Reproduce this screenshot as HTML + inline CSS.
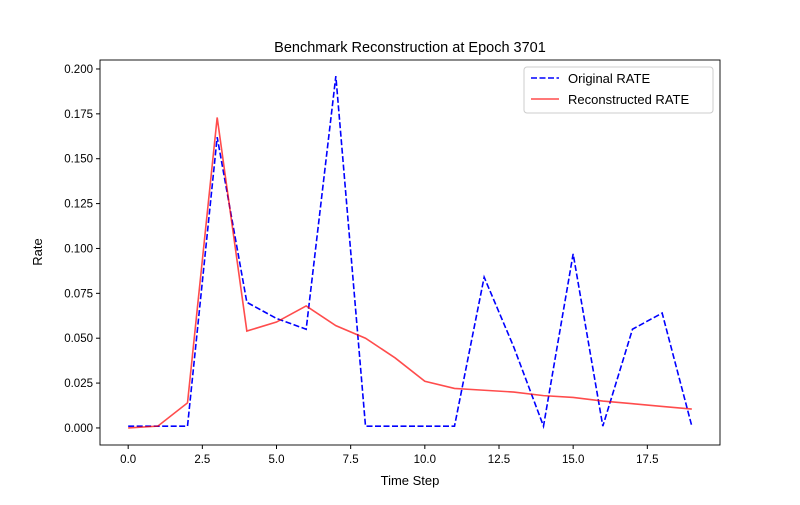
<!DOCTYPE html>
<html><head><meta charset="utf-8"><style>
html,body{margin:0;padding:0;background:#fff;}
svg text{font-family:"Liberation Sans","DejaVu Sans",sans-serif;fill:#000;}
</style></head><body>
<svg id="chart" width="800" height="500" xmlns="http://www.w3.org/2000/svg">
<rect width="800" height="500" fill="#fff"/>
<text x="410" y="52" font-size="14.5" text-anchor="middle">Benchmark Reconstruction at Epoch 3701</text>
<g id="series"></g>
<rect x="100" y="60" width="620" height="385" fill="none" stroke="#000" stroke-width="0.9"/>
<g id="ticks"></g>
<text x="410" y="485" font-size="13" text-anchor="middle">Time Step</text>
<text x="42" y="252" font-size="13" text-anchor="middle" transform="rotate(-90 42 252)">Rate</text>
<g>
<rect x="524" y="67" width="189" height="46" rx="3" fill="#fff" stroke="#ccc" stroke-width="1"/>
<line x1="531" y1="78" x2="559" y2="78" stroke="#0000ff" stroke-width="1.6" stroke-dasharray="6,2.5"/>
<text x="568" y="83" font-size="13">Original RATE</text>
<line x1="531" y1="99" x2="559" y2="99" stroke="#ff0000" stroke-opacity="0.7" stroke-width="1.6"/>
<text x="568" y="104" font-size="13">Reconstructed RATE</text>
</g>
</svg>
<script>
const steps = [0,1,2,3,4,5,6,7,8,9,10,11,12,13,14,15,16,17,18,19];
const originalRate = [0.001,0.001,0.001,0.162,0.070,0.061,0.055,0.196,0.001,0.001,0.001,0.001,0.084,0.045,0.001,0.097,0.001,0.055,0.064,0.001];
const reconstructedRate = [0.000,0.001,0.014,0.173,0.054,0.059,0.068,0.057,0.050,0.039,0.026,0.022,0.021,0.020,0.018,0.017,0.015,0.0135,0.012,0.0105];
const xTicks = [0,2.5,5,7.5,10,12.5,15,17.5];
const xTickLabels = ["0.0","2.5","5.0","7.5","10.0","12.5","15.0","17.5"];
const yTicks = [0,0.025,0.05,0.075,0.1,0.125,0.15,0.175,0.2];
const yTickLabels = ["0.000","0.025","0.050","0.075","0.100","0.125","0.150","0.175","0.200"];

const NS = "http://www.w3.org/2000/svg";
const X0 = 100, X1 = 720, Y0 = 445, Y1 = 60;
const xMin = -0.95, xMax = 19.95, yMin = -0.0095, yMax = 0.205;
function xs(v){ return X0 + (v - xMin) / (xMax - xMin) * (X1 - X0); }
function ys(v){ return Y0 - (v - yMin) / (yMax - yMin) * (Y0 - Y1); }

const ticks = document.getElementById('ticks');
xTicks.forEach((t, i) => {
  const l = document.createElementNS(NS, 'line');
  l.setAttribute('x1', xs(t)); l.setAttribute('x2', xs(t));
  l.setAttribute('y1', Y0); l.setAttribute('y2', Y0 + 4);
  l.setAttribute('stroke', '#000');
  
  
  ticks.appendChild(l);
  const tx = document.createElementNS(NS, 'text');
  tx.setAttribute('x', xs(t)); tx.setAttribute('y', Y0 + 18);
  tx.setAttribute('font-size', '11.5'); tx.setAttribute('text-anchor', 'middle');
  tx.textContent = xTickLabels[i];
  
  
  ticks.appendChild(tx);
});
yTicks.forEach((t, i) => {
  const l = document.createElementNS(NS, 'line');
  l.setAttribute('x1', X0 - 4); l.setAttribute('x2', X0);
  l.setAttribute('y1', ys(t)); l.setAttribute('y2', ys(t));
  l.setAttribute('stroke', '#000');
  
  
  ticks.appendChild(l);
  const tx = document.createElementNS(NS, 'text');
  tx.setAttribute('x', X0 - 7); tx.setAttribute('y', ys(t) + 4);
  tx.setAttribute('font-size', '11.5'); tx.setAttribute('text-anchor', 'end');
  tx.textContent = yTickLabels[i];
  
  
  ticks.appendChild(tx);
});

const series = document.getElementById('series');
function pts(arr){ return arr.map((v, i) => xs(steps[i]).toFixed(2) + ',' + ys(v).toFixed(2)).join(' '); }
const orig = document.createElementNS(NS, 'polyline');
orig.setAttribute('points', pts(originalRate));
orig.setAttribute('fill', 'none'); orig.setAttribute('stroke', '#0000ff');
orig.setAttribute('stroke-width', '1.6'); orig.setAttribute('stroke-dasharray', '6,2.5');


series.appendChild(orig);
const rec = document.createElementNS(NS, 'polyline');
rec.setAttribute('points', pts(reconstructedRate));
rec.setAttribute('fill', 'none'); rec.setAttribute('stroke', '#ff0000');
rec.setAttribute('stroke-opacity', '0.7'); rec.setAttribute('stroke-width', '1.6');


series.appendChild(rec);
</script>
</body></html>
